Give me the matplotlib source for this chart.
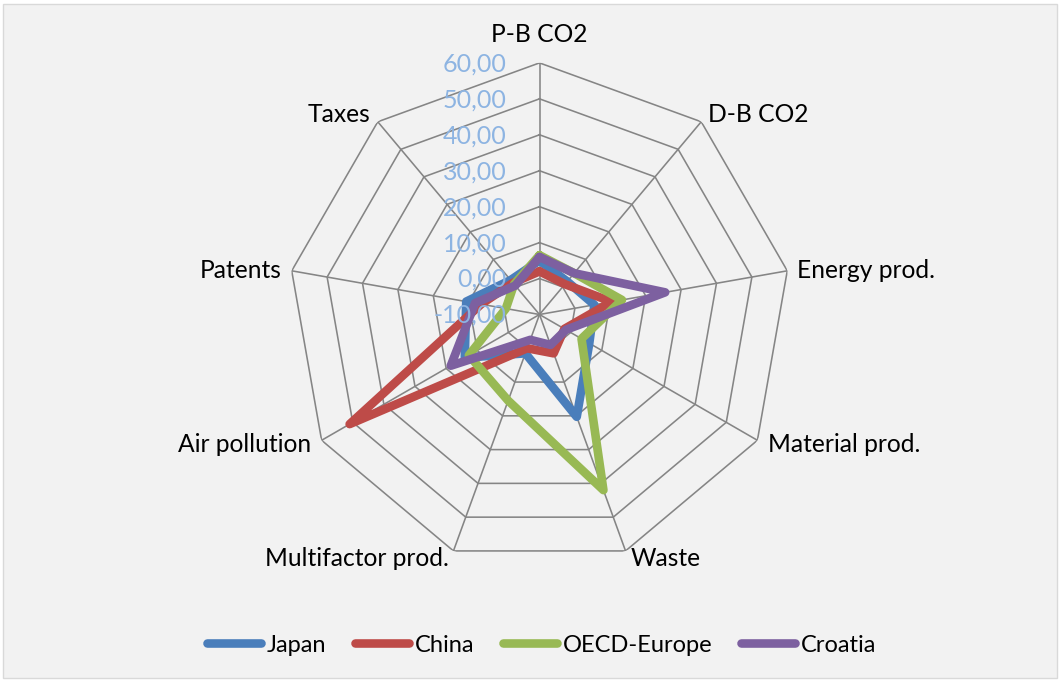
import numpy as np
import matplotlib
matplotlib.use("Agg")
import matplotlib.pyplot as plt
from matplotlib.patches import Rectangle
from matplotlib.lines import Line2D

plt.rcParams['font.family'] = ['Lato', 'DejaVu Sans']

categories = ["P-B CO2", "D-B CO2", "Energy prod.", "Material prod.", "Waste",
              "Multifactor prod.", "Air pollution", "Patents", "Taxes"]
japan = [5.0, 2.0, 5.5, 6.0, 20.3, 1.5, 14.0, 10.7, 2.5]
china = [2.0, 1.0, 10.4, -2.0, 1.5, 0.0, 51.0, 6.5, 1.5]
oecd_europe = [6.5, 5.0, 13.3, 3.5, 42.0, 15.5, 12.7, -0.5, 1.0]
croatia = [6.0, 5.0, 25.5, -1.5, -1.0, -2.5, 18.5, 8.2, 0.5]
series_names = ["Japan", "China", "OECD-Europe", "Croatia"]
series_values = [japan, china, oecd_europe, croatia]
series_colors = ["#4A7EBB", "#BE4B48", "#98B954", "#7D60A0"]
ring_values = [-10, 0, 10, 20, 30, 40, 50, 60]
tick_labels = ["-10,00", "0,00", "10,00", "20,00", "30,00", "40,00", "50,00", "60,00"]

W, H = 1061, 681
fig = plt.figure(figsize=(W / 100, H / 100), dpi=100, facecolor="white")
fig.patches.append(Rectangle((3 / W, 3 / H), (W - 7) / W, (H - 7) / H,
                             transform=fig.transFigure, facecolor="#F2F2F2",
                             edgecolor="#D9D9D9", lw=1.0, zorder=-10))

cx, cy, R = 539.5, 314.5, 251.6
ax = fig.add_axes([(cx - R) / W, (H - cy - R) / H, 2 * R / W, 2 * R / H],
                  projection="polar")
ax.set_theta_zero_location("N")
ax.set_theta_direction(-1)
ax.set_ylim(-10, 60)
ax.patch.set_alpha(0)
ax.grid(False)
ax.spines["polar"].set_visible(False)
ax.set_xticks([])
ax.set_yticks([])

n = len(categories)
theta = np.arange(n) * 2 * np.pi / n
theta_c = np.concatenate([theta, theta[:1]])

grid_color = "#858585"
for r in ring_values[1:]:
    ax.plot(theta_c, [r] * (n + 1), color=grid_color, lw=1.15, zorder=1)
for t in theta:
    ax.plot([t, t], [-10, 60], color=grid_color, lw=1.15, zorder=1)

for name, vals, col in zip(series_names, series_values, series_colors):
    v = list(vals) + [vals[0]]
    ax.plot(theta_c, v, color=col, lw=6.2, solid_joinstyle="round",
            solid_capstyle="round", zorder=3, label=name)

# radial tick labels
for r, lab in zip(ring_values, tick_labels):
    ax.annotate(lab, xy=(0, r), xytext=(-33, -1), textcoords="offset pixels",
                ha="right", va="center", color="#8DB4E2", fontsize=18,
                zorder=10, annotation_clip=False)

# category labels
label_cfg = [
    ("center", "center", 0, 28),
    ("left", "center", 7, 7),
    ("left", "center", 10, 0),
    ("left", "center", 11, -4),
    ("left", "center", 5, -8),
    ("right", "center", -5, -8),
    ("right", "center", -10, -4),
    ("right", "center", -10, 0),
    ("right", "center", -7, 7),
]
for t, lab, (ha, va, dx, dy) in zip(theta, categories, label_cfg):
    ax.annotate(lab, xy=(t, 60), xytext=(dx, dy), textcoords="offset pixels",
                ha=ha, va=va, color="black", fontsize=17.7, annotation_clip=False)

handles = [Line2D([], [], color=c, lw=6.2, solid_capstyle="round") for c in series_colors]
fig.legend(handles, series_names, loc="center", bbox_to_anchor=(541.5 / W, 1 - 645 / H),
           ncol=4, frameon=False, fontsize=17, handlelength=2.3, handletextpad=0.25,
           columnspacing=1.2)

fig.savefig("out.png", dpi=100, facecolor="white")
